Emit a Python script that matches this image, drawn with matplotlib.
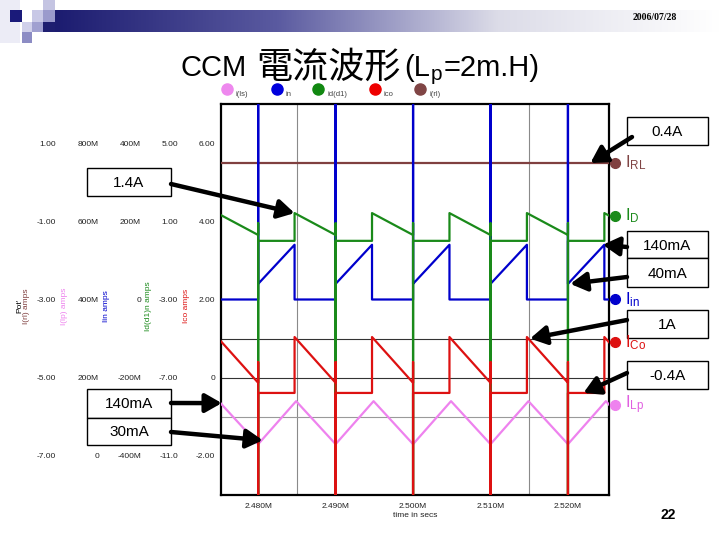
import numpy as np
import matplotlib
matplotlib.use('Agg')
import matplotlib.pyplot as plt
from matplotlib import transforms
from matplotlib.patches import Rectangle
from matplotlib.colors import LinearSegmentedColormap

plt.rcParams['font.family'] = ['Liberation Sans', 'Noto Sans CJK TC', 'DejaVu Sans']
plt.rcParams['mathtext.fontset'] = 'custom'
plt.rcParams['mathtext.rm'] = 'Liberation Sans'
plt.rcParams['mathtext.it'] = 'Liberation Sans:italic'

# ---------------- data ----------------
# switching instants (ms) and on-time
t_switch = [2.470, 2.480, 2.490, 2.500, 2.510, 2.520]
t_on = 0.0047
t_peak_lp = 0.0049
t_lim = (2.4752, 2.5253)

# current levels (A)
iin_start, iin_peak = 0.04, 0.14
id_peak, id_end, id_on = 1.42, 0.30, 0.0
ico_peak, ico_end, ico_on = 1.04, -0.13, -0.39
ilp_min, ilp_max = 0.03, 0.14
irl = 0.49
spike = 50.0
id_spike_top = 0.9
ico_spike_top = 0.4

x_ticks = [2.48, 2.49, 2.50, 2.51, 2.52]
x_ticklabels = ['2.480M', '2.490M', '2.500M', '2.510M', '2.520M']

# per-trace y axes (ticks, tick texts)
rl_ticks = [1, -1, -3, -5, -7]
rl_labels = ['1.00', '-1.00', '-3.00', '-5.00', '-7.00']
lp_ticks = [0.8, 0.6, 0.4, 0.2, 0]
lp_labels = ['800M', '600M', '400M', '200M', '0']
in_ticks = [0.4, 0.2, 0, -0.2, -0.4]
in_labels = ['400M', '200M', '0', '-200M', '-400M']
d_ticks = [5, 1, -3, -7, -11]
d_labels = ['5.00', '1.00', '-3.00', '-7.00', '-11.0']
co_ticks = [6, 4, 2, 0, -2]
co_labels = ['6.00', '4.00', '2.00', '0', '-2.00']

legend_names = ['i(ls)', 'in', 'id(d1)', 'ico', 'i(rl)']
legend_colors = ['#ee88ee', '#0000dd', '#118811', '#ee0000', '#804545']

# ---------------- build the waveforms ----------------
t_in, v_in = [], []
t_d, v_d = [], []
t_co, v_co = [], []
t_lp, v_lp = [], []
for ts in t_switch:
    t_in += [ts, ts, ts, ts + t_on, ts + t_on]
    v_in += [0, spike, iin_start, iin_peak, 0]
    t_d += [ts] * 4 + [ts + t_on] * 2
    v_d += [id_end, id_spike_top, -spike, id_on, id_on, id_peak]
    t_co += [ts] * 4 + [ts + t_on] * 2
    v_co += [ico_end, ico_spike_top, -spike, ico_on, ico_on, ico_peak]
    t_lp += [ts, ts + t_peak_lp]
    v_lp += [ilp_min, ilp_max]
t_end = t_switch[-1] + 0.01
t_in.append(t_end); v_in.append(0)
t_d.append(t_end); v_d.append(id_end)
t_co.append(t_end); v_co.append(ico_end)
t_lp.append(t_end); v_lp.append(ilp_min)
t_rl = [t_switch[0], t_end]
v_rl = [irl, irl]

# ---------------- figure ----------------
fig = plt.figure(figsize=(7.2, 5.4), dpi=100)
bg = fig.add_axes([0, 0, 1, 1])
bg.axis('off')

# slide header
hdr = LinearSegmentedColormap.from_list('hdr', ['#1c1c70', '#5a5aa0', '#dcdce8', '#ffffff'])
bg.imshow(np.linspace(0, 1, 256)[None, :], extent=(55, 720, 32, 10), cmap=hdr, aspect='auto')
bg.add_patch(Rectangle((0, 0), 20, 43, color='#ececf6', lw=0))
for (x0, y0, w, h, c) in [(10, 10, 12, 12, '#1a1a7a'), (32, 10, 11, 12, '#c8c8e6'),
                          (43, 0, 12, 10, '#c4c4e2'), (43, 10, 12, 12, '#9a9acc'),
                          (22, 22, 10, 10, '#d0d0ea'), (32, 22, 11, 10, '#a0a0d0'),
                          (22, 32, 10, 11, '#8c8cc4'), (43, 22, 12, 10, '#1e1e70')]:
    bg.add_patch(Rectangle((x0, y0), w, h, color=c, lw=0))
bg.set_xlim(0, 720)
bg.set_ylim(540, 0)

bg.text(655, 18, '2006/07/28', fontsize=7, family='Liberation Serif', weight='bold',
        ha='center', va='center')
bg.text(668, 515, '22', fontsize=10, weight='bold', ha='center', va='center')

# title, in pieces so the CJK part and the subscript get their own fonts
# (text, size, family, baseline y, gap after)
title_parts = [('CCM', 21, ['Liberation Sans'], 76, 10),
               ('電流波形', 26, ['Noto Sans CJK TC'], 78, 3),
               ('(L', 21, ['Liberation Sans'], 76, 1),
               ('p', 15, ['Liberation Sans'], 80, 1),
               ('=2m.H)', 21, ['Liberation Sans'], 76, 0)]
renderer = fig.canvas.get_renderer()
pieces, widths = [], []
for txt, fs, fam, yb, gap in title_parts:
    tt = bg.text(0, yb, txt, fontsize=fs, family=fam, va='baseline', ha='left')
    pieces.append(tt)
    widths.append(tt.get_window_extent(renderer).width + gap)
xpos = 360 - sum(widths) / 2
for tt, w in zip(pieces, widths):
    tt.set_x(xpos)
    xpos += w

# top legend row
for name, c, xd in zip(legend_names, legend_colors, [227, 277, 318, 375, 420]):
    bg.plot(xd, 89, 'o', ms=8, color=c)
    bg.text(xd + 9, 94, name, fontsize=5.5, color='#444444', va='center')

# plot frame
ax = fig.add_axes([221 / 720, 1 - 495 / 540, 388 / 720, 391 / 540])
ax.set_xlim(*t_lim)
ax.set_ylim(-8, 2)
ax.set_yticks([])
for g in [2.485, 2.500, 2.515]:
    ax.axvline(g, color='#8a8a8a', lw=0.8)
ax.axhline(-4, color='#333333', lw=0.8)
ax.axhline(-5, color='#333333', lw=0.8)
ax.axhline(-6, color='#9a9a9a', lw=0.8)
ax.set_xticks(x_ticks)
ax.set_xticklabels(x_ticklabels)
ax.tick_params(axis='x', length=0, pad=6, labelsize=6, labelcolor='#222222')
ax.set_xlabel('time in secs', fontsize=6, labelpad=1, color='#222222')
for s in ax.spines.values():
    s.set_linewidth(1.6)

series = [
    # t, v, color, ylim, ticks, labels, spine x px, ylabel, ylabel x px, right label, label color
    (t_rl, v_rl, '#804040', (-8, 2), rl_ticks, rl_labels, 56, 'I(rl) amps', 30,
     'I$_{\\mathrm{RL}}$', '#804545'),
    (t_lp, v_lp, '#ee82ee', (-0.1, 0.9), lp_ticks, lp_labels, 99, 'I(lp) amps', 68,
     'I$_{\\mathrm{Lp}}$', '#e060e0'),
    (t_in, v_in, '#0000cc', (-0.5, 0.5), in_ticks, in_labels, 141, 'Iin amps', 110,
     'I$_{\\mathrm{in}}$', '#0000cc'),
    (t_d, v_d, '#1a8a1a', (-13, 7), d_ticks, d_labels, 178, 'Id(d1)n amps', 152,
     'I$_{\\mathrm{D}}$', '#1a8a1a'),
    (t_co, v_co, '#dd1111', (-3, 7), co_ticks, co_labels, 215, 'Ico amps', 190,
     'I$_{\\mathrm{Co}}$', '#dd1111'),
]

axes = []
for t, v, c, yl, tk, tl, sx, ylab, lx, rlab, lc in series:
    tax = ax.twinx()
    tax.set_ylim(*yl)
    tax.plot(t, v, color=c, lw=1.6)
    tax.yaxis.set_ticks_position('left')
    tax.yaxis.set_label_position('left')
    for s in tax.spines.values():
        s.set_visible(False)
    tax.spines['left'].set_position(('axes', (sx - 221) / 388))
    tax.set_yticks(tk)
    tax.set_yticklabels(tl)
    tax.tick_params(axis='y', length=0, pad=0, labelsize=6, labelcolor='#222222')
    tax.set_ylabel(ylab, fontsize=6, color=c)
    tax.yaxis.set_label_coords((lx - 221) / 388, 0.483)
    # end marker + name on the right
    tr = transforms.blended_transform_factory(tax.transAxes, tax.transData)
    yend = np.interp(t_lim[1], t, v)
    tax.plot(1.0155, yend, 'o', ms=7, color=c, transform=tr, clip_on=False)
    tax.text(1.04, yend, rlab, color=lc, fontsize=12, transform=tr, va='center')
    axes.append(tax)

bg.text(20, 306, "Pot'", fontsize=6, rotation=90, ha='center', va='center')

ax_rl, ax_lp, ax_in, ax_d, ax_co = axes

# value boxes
boxes = [(627, 117, 708, 145, '0.4A'), (87, 168, 171, 196, '1.4A'),
         (627, 231, 708, 258, '140mA'), (627, 258, 708, 287, '40mA'),
         (627, 310, 708, 338, '1A'), (627, 361, 708, 389, '-0.4A'),
         (87, 389, 171, 418, '140mA'), (87, 418, 171, 445, '30mA')]
for x0, y0, x1, y1, txt in boxes:
    bg.add_patch(Rectangle((x0, y0), x1 - x0, y1 - y0, facecolor='white',
                           edgecolor='black', lw=1))
    bg.text((x0 + x1) / 2, (y0 + y1) / 2 + 1, txt, fontsize=11, ha='center', va='center')

arrows = [((632, 137), ax_rl, 2.5229, irl),
          ((171, 184), ax_d, 2.4847, id_peak),
          ((627, 247), ax_in, 2.5245, iin_peak),
          ((627, 277), ax_in, 2.5203, iin_start),
          ((627, 320), ax_co, 2.5151, ico_peak - 0.04),
          ((627, 373), ax_co, 2.5220, ico_on),
          ((171, 403), ax_lp, 2.4753, ilp_max - 0.005),
          ((171, 432), ax_lp, 2.4806, ilp_min + 0.01)]
for start, tax, tx, vy in arrows:
    ax_co.annotate('', xy=(tx, vy), xycoords=tax.transData,
                   xytext=start, textcoords=bg.transData, annotation_clip=False,
                   arrowprops=dict(arrowstyle='-|>,head_length=0.7,head_width=0.4',
                                   lw=3.2, color='black', shrinkA=0, shrinkB=0,
                                   mutation_scale=14))

fig.savefig('out.png', dpi=100)
